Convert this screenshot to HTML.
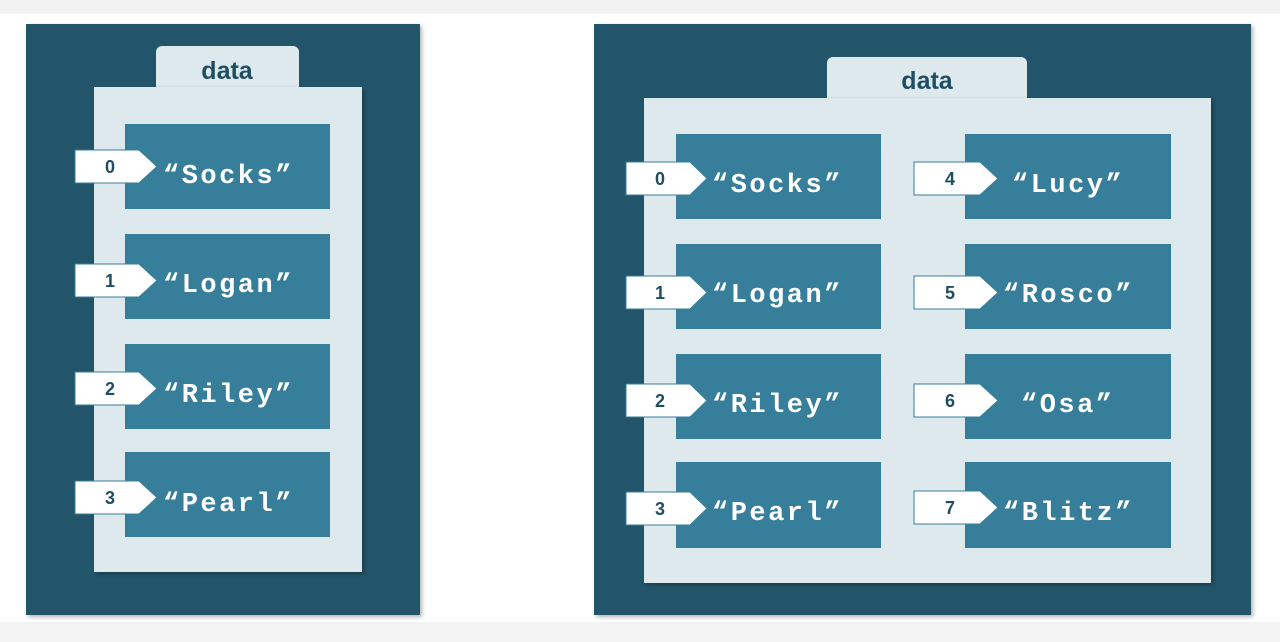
<!DOCTYPE html>
<html><head><meta charset="utf-8"><style>
html,body{margin:0;padding:0;width:1280px;height:642px;overflow:hidden;background:#fff}
</style></head><body>
<svg width="1280" height="642" viewBox="0 0 1280 642" xmlns="http://www.w3.org/2000/svg">
<defs><filter id="sh" x="-5%" y="-5%" width="110%" height="110%"><feDropShadow dx="2" dy="2" stdDeviation="2" flood-color="#000" flood-opacity="0.3"/></filter></defs>
<rect x="0" y="0" width="1280" height="642" fill="#ffffff"/>
<rect x="0" y="0" width="1280" height="14" fill="#f2f2f2"/>
<rect x="0" y="622" width="1280" height="20" fill="#f3f3f3"/>
<g font-family="Liberation Sans, sans-serif">
<rect x="26" y="24" width="394" height="591" fill="#22546a" filter="url(#sh)"/>
<path d="M156,88 V52 a6,6 0 0 1 6,-6 H293 a6,6 0 0 1 6,6 V88 Z" fill="#dde9ed"/>
<rect x="94" y="87" width="268" height="485" fill="#dde9ed" filter="url(#sh)"/>
<text x="227" y="79" text-anchor="middle" font-size="25" font-weight="bold" fill="#1f4d62">data</text>
<rect x="594" y="24" width="657" height="591" fill="#22546a" filter="url(#sh)"/>
<path d="M827,99 V63 a6,6 0 0 1 6,-6 H1021 a6,6 0 0 1 6,6 V99 Z" fill="#dde9ed"/>
<rect x="644" y="98" width="567" height="485" fill="#dde9ed" filter="url(#sh)"/>
<text x="927" y="89" text-anchor="middle" font-size="25" font-weight="bold" fill="#1f4d62">data</text>
<g fill="#377e9a">
<rect x="125" y="124" width="205" height="85"/><rect x="125" y="234" width="205" height="85"/>
<rect x="125" y="344" width="205" height="85"/><rect x="125" y="452" width="205" height="85"/>
<rect x="676" y="134" width="205" height="85"/><rect x="676" y="244" width="205" height="85"/>
<rect x="676" y="354" width="205" height="85"/><rect x="676" y="462" width="205" height="86"/>
<rect x="965" y="134" width="206" height="85"/><rect x="965" y="244" width="206" height="85"/>
<rect x="965" y="354" width="206" height="85"/><rect x="965" y="462" width="206" height="86"/>
</g>
<g fill="#ffffff" stroke="#377e9a" stroke-width="1">
<path d="M75,150 H139 L157,166.5 L139,183 H75 Z"/>
<path d="M75,264 H139 L157,280.5 L139,297 H75 Z"/>
<path d="M75,372 H139 L157,388.5 L139,405 H75 Z"/>
<path d="M75,481 H139 L157,497.5 L139,514 H75 Z"/>
<path d="M626,162 H690 L707,178.5 L690,195 H626 Z"/>
<path d="M626,276 H690 L707,292.5 L690,309 H626 Z"/>
<path d="M626,384 H690 L707,400.5 L690,417 H626 Z"/>
<path d="M626,492 H690 L707,508.5 L690,525 H626 Z"/>
<path d="M914,162 H980 L998,178.5 L980,195 H914 Z"/>
<path d="M914,276 H980 L998,292.5 L980,309 H914 Z"/>
<path d="M914,384 H980 L998,400.5 L980,417 H914 Z"/>
<path d="M914,491 H980 L998,507.5 L980,524 H914 Z"/>
</g>
<g font-size="18" font-weight="bold" fill="#1f4d62" text-anchor="middle">
<text x="110" y="173">0</text><text x="110" y="287">1</text><text x="110" y="395">2</text><text x="110" y="504">3</text>
<text x="660" y="185">0</text><text x="660" y="299">1</text><text x="660" y="407">2</text><text x="660" y="515">3</text>
<text x="950" y="185">4</text><text x="950" y="299">5</text><text x="950" y="407">6</text><text x="950" y="514">7</text>
</g>
</g>
<g font-family="Liberation Mono, monospace" font-size="27" font-weight="bold" fill="#ffffff" letter-spacing="2.5">
<text x="163" y="183">“Socks”</text><text x="163" y="292">“Logan”</text>
<text x="163" y="402">“Riley”</text><text x="163" y="511">“Pearl”</text>
<text x="712" y="192">“Socks”</text><text x="712" y="302">“Logan”</text>
<text x="712" y="412">“Riley”</text><text x="712" y="520">“Pearl”</text>
<text x="1012" y="192">“Lucy”</text><text x="1003" y="302">“Rosco”</text>
<text x="1021" y="412">“Osa”</text><text x="1003" y="520">“Blitz”</text>
</g>
</svg>
</body></html>
